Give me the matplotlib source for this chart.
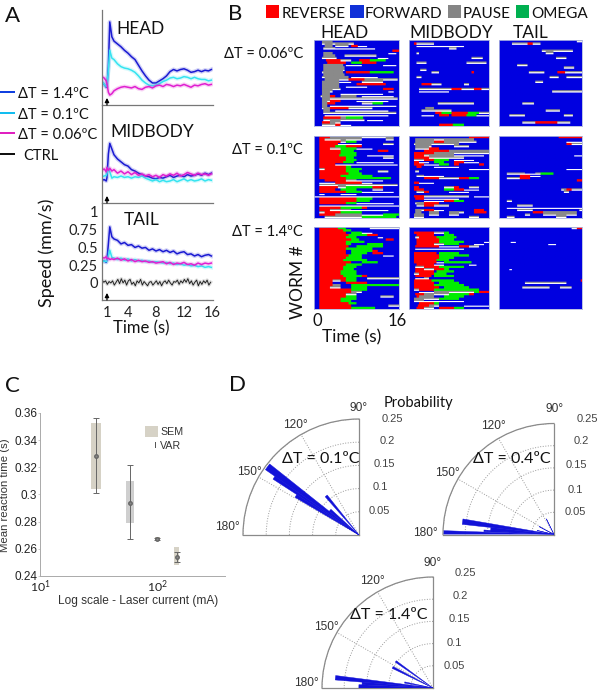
import numpy as np
import matplotlib
matplotlib.use("Agg")
import matplotlib.pyplot as plt
from matplotlib.colors import ListedColormap
from matplotlib.patches import Rectangle

plt.rcParams['font.family'] = ['Lato', 'DejaVu Sans']
plt.rcParams['mathtext.fontset'] = 'custom'
plt.rcParams['mathtext.rm'] = 'Liberation Sans'

W, H = 600, 694

# panel A, speed traces
t_a = [0.3, 0.6, 0.9, 1.0, 1.2, 1.4, 1.7, 2, 2.5, 3, 3.5, 4, 4.5, 5, 5.5, 6, 6.5, 7,
       7.5, 8, 8.5, 9, 9.5, 10, 10.5, 11, 11.5, 12, 12.5, 13, 13.5, 14, 14.5, 15, 15.5, 15.9]
head_14 = [.08, .05, .01, .02, .30, .93, .72, .66, .62, .58, .53, .49, .44, .40, .32, .24, .17, .11,
           .07, .07, .10, .13, .17, .23, .26, .24, .26, .27, .25, .22, .23, .25, .23, .25, .24, .26]
head_01 = [.09, .05, .02, .03, .25, .53, .42, .40, .34, .30, .28, .27, .25, .22, .17, .11, .07, .04,
           .03, .04, .06, .09, .11, .14, .15, .13, .14, .16, .15, .13, .15, .13, .12, .12, .10, .11]
head_006 = [.16, .14, .10, .06, -.06, -.10, -.08, -.04, -.01, .01, .02, .01, .00, .02, -.01, -.02, .01, .02,
            .00, .03, .04, .02, .05, .04, .02, .04, .03, .05, .03, .01, .04, .03, .05, .06, .04, .05]
mid_14 = [.08, .09, .07, .12, .45, .60, .52, .44, .38, .34, .30, .28, .23, .21, .18, .16, .14, .13,
          .11, .10, .12, .11, .13, .15, .12, .14, .15, .13, .16, .14, .15, .17, .15, .18, .16, .18]
mid_01 = [.13, .14, .15, .18, .25, .20, .11, .13, .12, .14, .12, .13, .11, .13, .12, .14, .11, .09,
          .07, .09, .06, .08, .06, .07, .09, .06, .08, .10, .07, .09, .07, .08, .10, .07, .09, .08]
mid_006 = [.22, .24, .20, .26, .22, .25, .21, .23, .18, .21, .17, .20, .16, .19, .15, .17, .14, .16,
           .13, .15, .12, .16, .14, .17, .15, .18, .14, .16, .19, .17, .15, .18, .16, .17, .15, .17]
tail_14 = [.30, .31, .29, .33, .55, .79, .65, .62, .60, .55, .57, .53, .54, .50, .52, .49, .50, .46,
           .48, .45, .47, .44, .46, .43, .45, .41, .43, .44, .40, .41, .38, .40, .37, .39, .40, .38]
tail_01 = [.30, .31, .30, .33, .38, .46, .36, .35, .33, .35, .32, .34, .31, .33, .31, .32, .30, .31,
           .29, .30, .29, .28, .29, .27, .28, .26, .27, .25, .26, .24, .25, .23, .24, .22, .23, .22]
tail_006 = [.36, .35, .37, .34, .35, .33, .34, .33, .35, .32, .34, .31, .33, .30, .32, .30, .31, .29,
            .30, .28, .29, .30, .27, .29, .26, .28, .27, .29, .26, .27, .25, .28, .26, .28, .27, .28]
t_ctrl = [0.3 + 0.25 * i for i in range(63)]
tail_ctrl = [.04, .01, .03, -.02, .02, .00, .03, -.03, .01, .05, -.01, .06, .00, .04, -.03, .03, .05, -.02, .01, -.04, .03,
             .00, .05, -.03, .02, -.01, -.04, .01, .02, -.03, .00, .03, -.02, .02, -.04, .01, .03, -.01, .04, .00,
             -.03, .02, .01, .04, -.02, .03, .00, .05, .01, .06, -.01, .03, -.03, .01, .04, -.04, .02, -.02, .03, .00, .04, -.03, .01]
speed_ticks = [0, .25, .5, .75, 1]
time_ticks = [1, 4, 8, 12, 16]
legend_a = ["ΔT = 1.4ºC", "ΔT = 0.1ºC", "ΔT = 0.06ºC", "CTRL"]

# panel B, bouts per worm: "row state start-stop ...", rows not listed stay forward
head_006_rows = [
    "0 P1.5-3.5", "1 P1.5-3.8 P3.8-7.5", "2 P2-3.5 P4-6.5 R7-8.3 W8.3-10", "3 P1.8-4 W4-11.5",
    "4 R14.8-16", "5 P1.8-3.5 W14-15.5", "6 P1.8-4 P5.8-11.8", "7 P1.5-4.3 W12-14", "8 R2.4-5 P5-7 R8.5-10.5 O10.5-13.5",
    "9 R2.5-6 O7-9 R9-11.8", "10 P1.8-5.5 W6-9 W13-15.5", "11 P1.8-5.8", "12 P1.8-5.8",
    "13 P1.5-5.5 R6-10.5 O10.5-15", "14 P1.8-5.8", "15 P1.6-6.5 W7-12", "16 P2-6.5 R6.5-9.5 P9.5-15.8",
    "17 P1.6-4.8 W4.8-7 P9-13", "18 P1.6-4.8 R8-13.5", "19 P1.6-4.8 W6-10", "20 P1.5-5 R13-15", "21 P1.5-3.5 W14-15",
    "22 P1.5-3 W5-13", "23 P1.3-3 R3-4 P5-8 W9-15", "24 P1.5-3 P3-15.8", "25 P1.5-3 R3-5 W8-14",
    "26 P1.5-2.6 R2.6-4 P9-11 O11-13", "27 P1.5-2.5 W3-15.5", "28 P1.5-3 R3-6.5 P6.5-11", "29 P1.8-3 W4-14",
    "30 P1.8-11.8 P11.8-15.5", "31 W2-14", "32 R1.8-5 P5-6 O6-9.3", "33 P1.8-9.5 W10-13",
    "34 R1.5-3 P3-5", "35 P1.5-4.5 R4-5 W5-7",
]
mid_006_rows = [
    "1 R1.2-1.6 P1.6-5", "2 W1.6-11", "3 P8.2-9.7", "5 P1.7-2.1", "7 P12.7-14.9", "9 P1.7-3.7 P11.7-15.5",
    "12 P2.3-3.5", "13 P4.5-6.2 R12.6-13", "15 P1.5-2.7", "18 R2.5-4.5 P4.5-6.5 P11-12", "20 P2-8.5 R8.5-10.5 P10.5-13 R13-14.5 P14.5-16",
    "21 W2-8", "26 P5.9-13.2", "28 P3.4-5.2", "29 P2.5-8.5", "30 R5.4-6.5 O6.5-8.5 R8.5-11.8 O11.8-14.2 P14.2-16",
    "31 W2.5-5 R6-8 R8.5-11.5 O11.5-13.5 W13.5-16", "35 R6.2-8.9 O8.9-11.2",
]
tail_006_rows = [
    "0 P15.1-16", "1 P2.6-5.6 R5.6-6.7 P6.7-8", "4 P8.4-14.4", "5 P9.2-10.5", "7 P11-13.2", "10 P3.5-5.5",
    "11 P12.6-14.7", "13 P5.8-8.9 R11.3-12.8 P12.8-16", "15 P9.9-11.5 P13.1-16", "17 P7.1-8.7", "21 P10.3-16",
    "26 P4.5-6.9", "29 P9-11.8", "31 P2-5 P12.5-14.3", "34 P4.5-7.1 R7.1-11.3 P11.3-13.8",
]
head_01_rows = [
    "0 R1.2-3.2 P3.2-15", "1 R1.2-2 P2-9 P13.5-15.2", "2 R1.2-5 P5-7 O6-8", "3 R1.2-4.5 W4.5-9 P13-15",
    "4 R1.2-4 R6-9 O4-6", "5 R1.2-3 P3-5 O5-8 W8-11", "6 R1.2-5 O5-7.5 R12-14", "7 R1.2-5 O5-8",
    "8 R1.2-4.8 O4.8-8 W10-15", "9 R1.2-6 O6-7.5 P13-15", "10 R1.2-6 O6-8", "11 R1.2-5.5 O5.5-7.5 W8-15",
    "12 R1.2-4 W4-15.8", "13 R1.2-3 R3-6 O6-7", "14 P1.2-2 R2-6 O6-9", "15 R1.2-6 O6-8.5 P12-14",
    "16 R1.2-6.5 O6.5-9", "17 R1.2-5 O5-9 O9-11", "18 R1.2-6 O6-14.5", "19 R2-6 P6-8 W8-13",
    "20 W1-4 R4-9 W9-11", "21 P1.2-3 P3-5 P5-15.8", "22 R1.2-4.5 P4.5-6 O6-11 R11-13", "23 R1.2-4 O5-8 P11-13",
    "24 R1.2-6 O6-9 W9-15", "25 W1.2-2 W5-8", "26 W0-16", "27 R1.2-8 O8-11", "28 R1.2-8 O8-10.5",
    "29 R1.2-6 O6-8 W8-15", "30 W1.2-16", "31 R1.2-5 O5-9 R9-10", "32 R1.2-3 P3-7 W7-14", "33 P1.2-2 R2-5 O5-9",
    "34 R1.2-4 P4-9 W9-15.8 O13-16", "35 P2-9 O9-15.5",
]
mid_01_rows = [
    "0 R12-16", "1 P1.4-13", "2 P1.4-5 R5-7 P7-13.5", "3 P1.2-5 P5-10", "4 P1.4-4.5 P9-12", "5 P1.4-4 R4-6",
    "6 R3-8 P8-16", "7 R1.2-5 P5-16", "8 R1.2-3 P3-9 W9-15", "9 R1.2-4 P4-11", "10 P1.2-3 R3-5 O5-8 W9-13",
    "11 R1.2-2 W2-4 O5-7 R9-11 W11-14", "12 R1.2-3 W3-6 O6-8 R9-10 R14-15", "13 R1.5-2.5 W5-10", "14 W12-16",
    "15 P1.4-2", "17 P1.5-3 W3-7", "18 R3-6 P6-10 R10-12 O12-14", "20 R1.2-2 W2-5", "22 R1.2-2 P7-9 R9-10 P12-14",
    "23 R1.2-3 O7-9 R9-11 W11-14", "24 P1.5-3 R3-4 W8-12", "26 R1.2-3 P3-12 W13-16", "27 R1.4-3 W3-10",
    "28 W3-7 R7-9 O9-11", "29 P1.4-3 R3-6", "30 P1.5-3 R3-5 P5-8", "32 P1.4-3 R3-5 W5-7 R13-15", "33 P1.4-2.5 P4-6 P8-11 R13-15.5",
    "34 P1.2-3 P4-6 P8-10", "35 P1.2-3 P12-14",
]
tail_01_rows = [
    "0 R11.5-16", "2 W13-16", "3 R13-14 P14-16", "8 W14.5-16", "14 W13-16", "16 P1.5-5 W5-7 P7-8 O8-10.5",
    "17 R4-6 W6-8", "18 P1.5-4 R4-6", "19 R15-16", "23 P12-13 R13-14 P14-16", "24 P12.5-13.5", "28 P1.5-2.5",
    "30 P3.5-6.5", "31 W1.5-16", "32 P3.5-6.5 P15.5-16", "33 R6.5-8.5 P8.5-15", "34 P5-6 P8.5-15",
    "35 P1.5-3 P11-13",
]
head_14_rows = [
    "0 R1.1-4.5 O4.5-6 P10.5-16", "1 R1.1-5.5 O5.5-7", "2 R1.1-6 O7-9 W9-11 ", "3 R1.1-6.5 O6.5-10 R10-12",
    "4 R1.1-6 O6-8 W12-13", "5 R1.1-7 O7-8.5 R13.5-15", "6 R1.1-6 O6-9.5", "7 R1.1-6 O6-7 O10-13", "8 R1.1-6.5 O8-13",
    "9 R1.1-6 O6-11", "10 R1.1-6 O7-11 R11-12", "11 R1.1-6 O7-10 R11-13", "12 R1.1-6.5 O6.5-9 W13-15",
    "13 R1.1-6 O6-9", "14 R1.1-5.5 O5.5-10 ", "15 R1.1-5.5 R5.5-7 O9-12", "16 R1.1-6 O6-9", "17 R1.1-5.5 O5.5-8",
    "18 R1.1-5.5 O5.5-7.5", "19 R1.1-5 O5-8", "20 R1.1-5 O5-8", "21 R1.1-5.5 O5.5-9 R9-10", "22 R1.1-6 O6-8 P10-16",
    "23 R1.1-6 P3.5-5 O6-8", "24 R1.1-3.5 R6-10", "25 R1.1-3.5 P3.5-5 O7-16", "26 R1.1-3 P3-5 O7-10",
    "27 R1.1-7 O7-10", "28 R1.1-7 P7-9", "29 R1.1-6 P6-8", "30 R1.1-6 O6-8 P12.5-15", "31 R1.1-5 O5-8", "32 R1.1-5 O5-7",
    "33 R1.1-6.5 O6.5-8", "34 R1.1-7 P14-16", "35 R1.1-7 O7-11.5",
]
mid_14_rows = [
    "2 R1.2-1.6 R1.6-5 P5-7 O7-8", "3 R1.6-5 O7-9", "4 P1.4-2 R2-5.5 O5.5-9.5", "5 R1.6-6 O6-9", "6 R1.6-6 O6-11 W15-16",
    "7 R1.6-5 P5-7 O7-10 W13-15", "8 R1.4-6 W6-10 R10-12 P12-14", "9 W1.4-11",
    "11 R1.2-5.5 O6-10", "12 R1.2-6 O6-12", "13 R1.2-6 O6-9", "14 R1.2-5.5 O5.5-8", "15 R1.2-5.5 W5.5-7 O7-12.5",
    "16 R1.5-5 W5-7 W12-13.5", "17 P1.4-3 R3-6 O6-11", "18 R1.4-3 P3-5 R5-7 O7-8", "19 R1.4-5 O5.5-9", "20 P1.2-2 R2-5 O5-7.5",
    "21 R1.4-4.5 O5-9", "22 W1.4-3 P3-4", "23 R1.2-4.5 O4.5-9", "24 R1.2-5 O6-10", "25 R1.2-5 O5-11", "26 R1.2-6 O7-12",
    "27 P1.2-2 R2-5 O5-14", "28 W2-5 P5-9 P9-13 O13-14 R14-16", "29 R1.4-3 P3-8 O8-12 R12-13", "30 R1.5-2 P2-5 O7-11",
    "31 P1.2-6 O6-8 O8-10", "32 P1.2-3 W3-8 W8-11", "33 R2-5 O5-6", "34 R1.8-4 P4-6 W11-16", "35 R1.6-3 P3-5 R6-9 O9-11",
]
tail_14_rows = [
    "0 P14.2-15 R15-16", "6 W2.4-3.4", "7 W9.6-11", "18 W2-2.5", "23 R15.8-16", "24 P5.2-13.2", "26 P4.6-9.8 P11.8-14",
]
panels_b = [[head_006_rows, mid_006_rows, tail_006_rows],
            [head_01_rows, mid_01_rows, tail_01_rows],
            [head_14_rows, mid_14_rows, tail_14_rows]]
row_labels_b = ["ΔT = 0.06ºC", "ΔT = 0.1ºC", "ΔT = 1.4ºC"]
legend_b = ["REVERSE", "FORWARD", "PAUSE", "OMEGA"]

# panel C
current = [30, 59, 100, 147]
mean_rt = [.328, .294, .267, .254]
sem_lo = [.304, .279, .2655, .248]
sem_hi = [.353, .310, .2685, .261]
var_lo = [.301, .267, .2662, .250]
var_hi = [.356, .322, .2678, .258]
rt_ticks = [.24, .26, .28, .30, .32, .34, .36]
rt_labels = ["0.24", "0.26", "0.28", "0.3", "0.32", "0.34", "0.36"]

# panel D, orientation histograms
theta_01 = [130, 139.5, 143.3, 146, 148.2]
prob_01 = [.11, .082, .246, .221, .16]
widths_01 = [3, 4, 3.6, 2, 2.6]
theta_04 = [116, 152, 166.5, 172, 175.2, 177, 179]
prob_04 = [.039, .038, .039, .208, .143, .158, .248]
widths_04 = [1, 1, 1, 3.4, 3.2, 1.4, 2]
theta_14 = [144.5, 153, 169, 174, 176.3, 178.7]
prob_14 = [.103, .102, .065, .221, .16, .167]
widths_14 = [2.2, 2.6, 2.5, 2.6, 2.2, 2.6]
prob_ticks = [.05, .1, .15, .2, .25]

BLUE, CYAN, MAGENTA = '#1a1ad2', '#35e4f0', '#e01fd0'
fig = plt.figure(figsize=(W / 100, H / 100), dpi=100, facecolor='white')


def box(l, t, r, b, **kw):
    return fig.add_axes([l / W, 1 - b / H, (r - l) / W, (b - t) / H], **kw)


def txt(x, y, s, size=11, ha='center', va='center', **kw):
    kw.setdefault('color', '#111111')
    return fig.text(x / W, 1 - y / H, s, fontsize=size, ha=ha, va=va, **kw)


def fig_rect(l, t, r, b, color):
    fig.add_artist(Rectangle((l / W, 1 - b / H), (r - l) / W, (b - t) / H,
                             transform=fig.transFigure, facecolor=color, edgecolor='none'))


# A
txt(5, 16, "A", 16, ha='left')
rows_a = [(10, 105, head_14, head_01, head_006), (105, 203, mid_14, mid_01, mid_006),
          (203, 300, tail_14, tail_01, tail_006)]
for i, (top, bot, s14, s01, s006) in enumerate(rows_a):
    ax = box(102, top, 213, bot)
    ax.set_xlim(0.29, 16.14)
    ax.set_ylim(-0.24, -0.24 + (bot - top) / 71)
    ax.patch.set_alpha(0)
    for s, c in [(s14, BLUE), (s01, CYAN), (s006, MAGENTA)]:
        ax.plot(t_a, s, color=c, lw=3, alpha=0.2, solid_joinstyle='round')
        ax.plot(t_a, s, color=c, lw=1.1)
    if i == 2:
        ax.plot(t_ctrl, tail_ctrl, color='#aaaaaa', lw=2.5, alpha=0.4)
        ax.plot(t_ctrl, tail_ctrl, color='#222222', lw=0.7)
    ax.annotate("", xy=(1, -0.14), xytext=(1, -0.24),
                arrowprops=dict(arrowstyle='-|>', color='black', lw=0.9, mutation_scale=6, shrinkA=0, shrinkB=0))
    for sp in ['top', 'right']:
        ax.spines[sp].set_visible(False)
    for sp in ['left', 'bottom']:
        ax.spines[sp].set_color('#777777')
        ax.spines[sp].set_linewidth(0.9)
    if i == 2:
        ax.set_yticks(speed_ticks, ["0", "0.25", "0.5", "0.75", "1"])
        ax.set_xticks(time_ticks)
        ax.tick_params(length=0, labelsize=10.5, labelcolor='#222222', pad=3)
        ax.tick_params(axis='x', pad=4)
    else:
        ax.set_xticks([])
        ax.set_yticks([])
txt(141, 29, "HEAD", 12.5)
txt(152, 132, "MIDBODY", 12.5)
txt(142, 220, "TAIL", 12.5)
txt(47, 253, "Speed (mm/s)", 13, rotation=90)
txt(141, 328, "Time (s)", 12)
for (y, label, c) in zip([92, 113, 133, 154], legend_a, ['#1040e0', '#12bdf0', '#e020c0', '#111111']):
    fig_rect(0, y - 1, 15, y + 1, c)
    txt(23 if label == "CTRL" else 18, y + 2, label, 10.5, ha='left')

# B
txt(228, 14, "B", 16, ha='left')
for (l, r, c, label, tx) in zip([266, 350, 448, 516], [279, 364, 461, 529],
                                ['#ff0000', '#1030d8', '#858585', '#00b050'], legend_b, [282, 365, 463, 531]):
    fig_rect(l, 5, r, 18, c)
    txt(tx, 14, label, 11, ha='left')
txt(345, 33, "HEAD", 12.5)
txt(451, 33, "MIDBODY", 12.5)
txt(531, 33, "TAIL", 12.5)
for y, label in zip([54, 150, 232], row_labels_b):
    txt(303, y, label, 10.5, ha='right')

state_cmap = ListedColormap(['#0000e0', '#ff0000', '#8a8a8a', '#00ee00', '#ffffff'])
state_code = {'R': 1, 'P': 2, 'O': 3, 'W': 4}
n_worms, n_bins = 36, 64


def raster(rows):
    # two sub-rows per worm: pause tracks carry a thin white line under them
    m = np.zeros((n_worms * 2, n_bins), dtype=int)
    for line in rows:
        tokens = line.split()
        r = int(tokens[0])
        for tok in tokens[1:]:
            a, b = tok[1:].split('-')
            a, b = int(float(a) * 4), int(float(b) * 4)
            if tok[0] == 'W':
                m[2 * r + 1, a:b] = 4
            elif tok[0] == 'P':
                m[2 * r, a:b] = 2
                m[2 * r + 1, a:b] = 4
            else:
                m[2 * r:2 * r + 2, a:b] = state_code[tok[0]]
    # pause blobs: no white line when the next worm pauses at the same time
    for r in range(2 * n_worms - 2):
        white = m[r] == 4
        m[r, white & (m[r - 1] == 2) & (m[r + 1] == 2)] = 2
    return m


xs_b = [(314, 399), (409, 489), (499, 582)]
ys_b = [(40, 126), (136, 218), (227, 309)]
for (top, bot), row in zip(ys_b, panels_b):
    for (l, r), rows in zip(xs_b, row):
        ax = box(l, top, r, bot)
        ax.imshow(raster(rows), cmap=state_cmap, vmin=0, vmax=4, aspect='auto',
                  extent=(0, 16, n_worms, 0), interpolation='antialiased')
        ax.set_xticks([])
        ax.set_yticks([])
        for sp in ax.spines.values():
            sp.set_color('#b0b8e0')
            sp.set_linewidth(0.6)
txt(298, 282, "WORM #", 12.5, rotation=90)
txt(317, 321, "0", 12)
txt(397, 321, "16", 12)
txt(352, 337, "Time (s)", 12.5)

# C
txt(5, 386, "C", 16, ha='left')
axc = box(40, 413, 225, 576)
axc.set_xscale('log')
axc.set_xlim(10, 380)
axc.set_ylim(.24, .36)
half = [1.11, 1.085, 1.05, 1.045]
lefts = [c / f for c, f in zip(current, half)]
rights = [c * f for c, f in zip(current, half)]
heights = [h - l for h, l in zip(sem_hi, sem_lo)]
axc.bar(lefts, heights, width=[r - l for r, l in zip(rights, lefts)], bottom=sem_lo, align='edge',
        color=['#d6d2c6', '#cfcfcf', '#b8b4a8', '#d6d2c6'], edgecolor='none')
axc.errorbar(current, mean_rt, yerr=[[m - l for m, l in zip(mean_rt, var_lo)], [h - m for h, m in zip(var_hi, mean_rt)]],
             fmt='o', ms=2.5, color='#666666', mfc='#888888', mec='#666666', elinewidth=0.7, capsize=2.5, capthick=0.7)
for sp in ['top', 'right']:
    axc.spines[sp].set_visible(False)
for sp in ['left', 'bottom']:
    axc.spines[sp].set_color('#aaaaaa')
    axc.spines[sp].set_linewidth(0.7)
axc.set_yticks(rt_ticks, rt_labels, family='Liberation Sans', fontsize=8.5, color='#222222')
axc.set_xticks([10, 100], [r'$\mathregular{10^{1}}$', r'$\mathregular{10^{2}}$'], fontsize=8.8, color='#222222')
axc.minorticks_off()
axc.tick_params(length=1.5, width=0.5, color='#bbbbbb', pad=0.5)
axc.tick_params(axis='x', length=0, pad=2)
txt(5.5, 495, "Mean reaction time (s)", 8.2, rotation=90, family='Liberation Sans', color='#333333')
txt(138, 601, "Log scale - Laser current (mA)", 8.6, family='Liberation Sans', color='#333333')
fig_rect(145, 426, 158, 437, '#d6d2c6')
txt(160, 432, "SEM", 7.7, ha='left', family='Liberation Sans', color='#333333')
txt(160, 446, "VAR", 7.7, ha='left', family='Liberation Sans', color='#333333')
fig_rect(155, 442, 155.6, 448, '#555555')
fig_rect(152.5, 441.6, 158, 442.2, '#555555')
fig_rect(152.5, 447.8, 158, 448.4, '#555555')

# D
txt(229, 385, "D", 16, ha='left')
txt(418, 403, "Probability", 10.5)
wedges = [
    (243, 419, 359, 535, theta_01, prob_01, widths_01, "ΔT = 0.1ºC", (321, 459)),
    (443, 421, 554, 537, theta_04, prob_04, widths_04, "ΔT = 0.4ºC", (512, 459)),
    (322, 575, 433, 690, theta_14, prob_14, widths_14, "ΔT = 1.4ºC", (389, 615)),
]
for (l, t, r, b, th, pr, wd, label, pos) in wedges:
    ax = box(l, t, r, b, projection='polar')
    ax.set_thetamin(90)
    ax.set_thetamax(180)
    ax.set_rlim(0, .25)
    ax.bar(np.radians(th), pr, width=np.radians(wd), color='#1212d8', edgecolor='#1212d8', linewidth=0.3, zorder=3)
    ax.set_rticks(prob_ticks)
    ax.set_yticklabels([])
    ax.set_thetagrids([120, 150], ['', ''])
    ax.grid(True, color='#999999', lw=0.7, ls=':')
    for sp in ax.spines.values():
        sp.set_color('#8a8a8a')
        sp.set_linewidth(0.9)
    ax.patch.set_alpha(0)
    txt(pos[0], pos[1], label, 11.5)

deg_sets = [[(359, 408, "90°"), (295, 425, "120°"), (249, 472, "150°"), (227, 527, "180°")],
            [(555, 409, "90°"), (493, 426, "120°"), (447, 473, "150°"), (425, 533, "180°")],
            [(433, 563, "90°"), (372, 581, "120°"), (326, 627, "150°"), (306, 683, "180°")]]
for group in deg_sets:
    for x, y, s in group:
        txt(x, y, s, 8.6, family='Liberation Sans', color='#333333')
prob_labels = ["0.05", "0.1", "0.15", "0.2", "0.25"]
for pts in [[(379, 511), (380, 487), (384, 464), (387, 441), (392, 419)],
            [(575, 512), (575, 490), (576, 465), (581, 441), (587, 419)],
            [(454, 666), (454, 643), (459, 619), (460, 596), (465, 573)]]:
    for (x, y), s in zip(pts, prob_labels):
        txt(x, y, s, 8, family='Liberation Sans', color='#444444')

fig.savefig("out.png", dpi=100)
